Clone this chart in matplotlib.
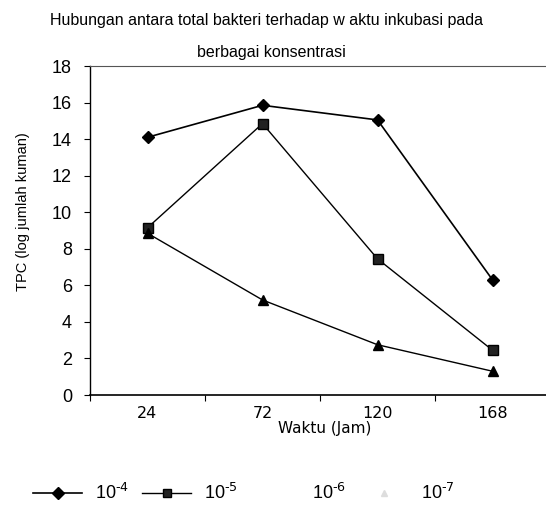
import matplotlib
matplotlib.use("Agg")
import matplotlib.pyplot as plt
from matplotlib.lines import Line2D

categories = ["24", "72", "120", "168"]
s_1e4 = [14.1, 15.85, 15.05, 6.3]
s_1e5 = [9.15, 14.85, 7.45, 2.45]
s_1e6 = [8.85, 5.2, 2.75, 1.3]
legend_labels = ["10$^{\u20104}$", "10$^{\u20105}$", "10$^{\u20106}$", "10$^{\u20107}$"]
yticks = [0, 2, 4, 6, 8, 10, 12, 14, 16, 18]

W, H = 546, 521
fig = plt.figure(figsize=(W / 100, H / 100), dpi=100)
ax = fig.add_axes([90 / W, (H - 395) / H, (W - 90) / W, 329 / H])

x = list(range(len(categories)))
ax.plot(x, s_1e4, color="black", lw=1.2, marker="D", ms=6.5, mfc="black", mec="black")
ax.plot(x, s_1e5, color="black", lw=1.0, marker="s", ms=7, mfc="#222222", mec="black")
ax.plot(x, s_1e6, color="black", lw=1.0, marker="^", ms=7.5, mfc="black", mec="black")

ax.set_xlim(-0.5, (W - 90) / 115 - 0.5)
ax.set_ylim(0, 18)
ax.set_yticks(yticks)
ax.set_yticklabels([str(v) for v in yticks], fontfamily="Liberation Sans", fontsize=13)
ax.set_xticks(x)
ax.set_xticklabels(categories, fontfamily="DejaVu Sans", fontsize=11.5)
ax.set_xticks([i + 0.5 for i in range(-1, 3)], minor=True)
ax.tick_params(axis="x", which="major", length=0, pad=8)
ax.tick_params(axis="x", which="minor", length=4, direction="out", width=0.8)
ax.tick_params(axis="y", length=4, direction="out", width=0.8, pad=9)

ax.spines["right"].set_visible(False)
ax.spines["top"].set_linestyle((0, (2, 1)))
ax.spines["top"].set_linewidth(0.8)
ax.spines["top"].set_color("#555555")
ax.spines["left"].set_linewidth(1.0)
ax.spines["bottom"].set_linewidth(1.2)

ax.set_ylabel("TPC (log jumlah kuman)", fontfamily="Liberation Sans", fontsize=10.5)
ax.yaxis.set_label_coords(-(90 - 23) / (W - 90), (395 - 212) / 329)
ax.set_xlabel("Waktu (Jam)", fontfamily="DejaVu Sans", fontsize=11)
ax.xaxis.set_label_coords((325 - 90) / (W - 90), -(428 - 395) / 329)
ax.xaxis.label.set_va("center")
ax.yaxis.label.set_va("center")

fig.text(266 / W, 1 - 20 / H, "Hubungan antara total bakteri terhadap w aktu inkubasi pada",
         ha="center", va="center", fontfamily="Liberation Sans", fontsize=11.5)
fig.text(271 / W, 1 - 53 / H, "berbagai konsentrasi",
         ha="center", va="center", fontfamily="Liberation Sans", fontsize=11.5)

handles = [
    Line2D([], [], color="black", lw=1.2, marker="D", ms=6, mfc="black"),
    Line2D([], [], color="black", lw=1.0, marker="s", ms=6, mfc="#222222"),
    Line2D([], [], color="white", lw=0),
    Line2D([], [], color="white", lw=0, marker="^", ms=5, mfc="#dddddd", mec="#dddddd"),
]
fig.legend(handles, legend_labels, ncol=4, loc="center left",
           bbox_to_anchor=(26 / W, 1 - 493 / H), frameon=False, borderaxespad=0,
           prop={"family": "Liberation Sans", "size": 13}, handlelength=2.7,
           handletextpad=0.7, columnspacing=0.75)

fig.savefig("out.png", dpi=100)
